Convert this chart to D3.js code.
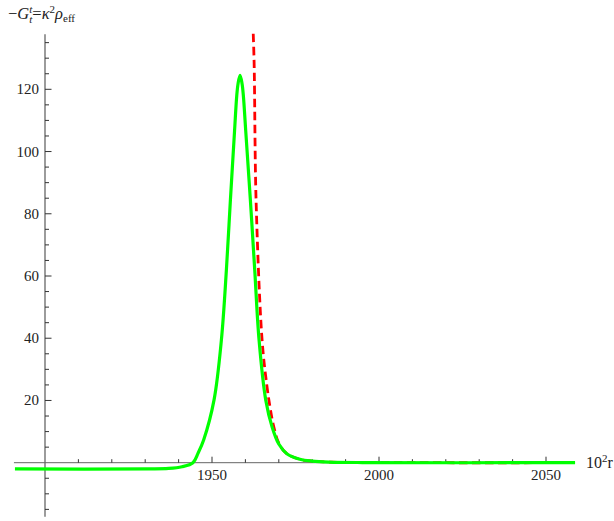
<!DOCTYPE html>
<html>
<head>
<meta charset="utf-8">
<script src="https://cdn.jsdelivr.net/npm/d3@7"></script>
<style>
  html, body { margin: 0; padding: 0; background: #fff; }
  svg text { font-family: "Liberation Serif", "Times New Roman", Times, "DejaVu Serif", serif; }
</style>
</head>
<body>
<div id="chart"></div>
<script>
// Data
const greenR = [1891, 1931, 1937, 1941, 1944.3, 1945.8, 1947.5, 1950.6, 1952.8, 1954.3, 1955.5, 1956.75, 1957.4, 1957.8,
                1958.4, 1959.0, 1959.4, 1960.1, 1961.5, 1962.8, 1964.1, 1966.1, 1968.0, 1970.0, 1972.4, 1976.3, 1980, 1985, 1995, 2058.7];
const greenV = [-2, -2, -1.85, -1.3, 0, 3, 7.3, 20.1, 39.3, 61.8, 84.2, 106.6, 117.8, 121.8,
                124.5, 121.8, 117.8, 106.6, 84.2, 61.8, 39.3, 20.1, 11.5, 6, 2.9, 1.1, 0.5, 0.2, 0.05, 0];

const redR = [1962.2, 1962.6, 1963.2, 1965.0, 1966.4, 1967.5, 1968.5, 1970.0, 1972.4, 1976.3, 1980, 1985, 1995, 2058.7];
const redV = [142, 129.1, 84.2, 39.3, 25, 17, 11.5, 6.3, 2.9, 1.1, 0.5, 0.2, 0.05, 0];

const xMajor = [1950, 2000, 2050];
const yMajor = [20, 40, 60, 80, 100, 120];

const width = 614, height = 521;

const svg = d3.select("#chart").append("svg")
    .attr("width", width)
    .attr("height", height);

// scales: y axis sits at r = 1900, x axis at value 0
const x = d3.scaleLinear().domain([1900, 2050]).range([45, 546]);
const y = d3.scaleLinear().domain([0, 120]).range([462.7, 89.3]);

const xMin = 1890.7, xMax = 2058.7;
const yMin = -17.4, yMax = 137.7;

// clip for the curves
svg.append("defs").append("clipPath")
    .attr("id", "plotclip")
    .append("rect")
    .attr("x", x(xMin) - 2)
    .attr("y", y(yMax) - 2)
    .attr("width", x(xMax) - x(xMin) + 4)
    .attr("height", y(yMin) - y(yMax) + 4);

const axisColor = "#666";

// x axis line
svg.append("line")
    .attr("x1", x(xMin)).attr("x2", x(xMax))
    .attr("y1", y(0)).attr("y2", y(0))
    .style("stroke", axisColor).style("stroke-width", 1);

// y axis line
svg.append("line")
    .attr("x1", x(1900)).attr("x2", x(1900))
    .attr("y1", y(yMax)).attr("y2", y(yMin))
    .style("stroke", axisColor).style("stroke-width", 1.3);

// x ticks (pointing up)
const xTicks = d3.range(1910, 2060, 10);
svg.append("g").selectAll("line")
    .data(xTicks)
    .enter().append("line")
    .attr("x1", d => x(d)).attr("x2", d => x(d))
    .attr("y1", y(0))
    .attr("y2", d => y(0) - (xMajor.includes(d) ? 6 : 3.5))
    .style("stroke", "#333").style("stroke-width", 1);

svg.append("g").selectAll("text")
    .data(xMajor)
    .enter().append("text")
    .attr("x", d => x(d))
    .attr("y", y(0) + 17)
    .attr("text-anchor", "middle")
    .style("font-size", "15px")
    .style("fill", "#222")
    .text(d => d);

// y ticks (pointing right)
const yTicks = d3.range(-15, 140, 5).filter(d => d !== 0);
svg.append("g").selectAll("line")
    .data(yTicks)
    .enter().append("line")
    .attr("x1", x(1900))
    .attr("x2", d => x(1900) + (yMajor.includes(d) ? 6.5 : 4))
    .attr("y1", d => y(d)).attr("y2", d => y(d))
    .style("stroke", "#333").style("stroke-width", 1);

svg.append("g").selectAll("text")
    .data(yMajor)
    .enter().append("text")
    .attr("x", x(1900) - 6)
    .attr("y", d => y(d) + 5)
    .attr("text-anchor", "end")
    .style("font-size", "15px")
    .style("fill", "#222")
    .text(d => d);

// curves
const line = d3.line()
    .x(d => x(d[0]))
    .y(d => y(d[1]))
    .curve(d3.curveCatmullRom.alpha(0.5));

const plot = svg.append("g").attr("clip-path", "url(#plotclip)");

plot.append("path")
    .datum(d3.zip(redR, redV))
    .attr("d", line)
    .style("fill", "none")
    .style("stroke", "#ff0000")
    .style("stroke-width", 2.8)
    .style("stroke-dasharray", "8.5,4.5");

plot.append("path")
    .datum(d3.zip(greenR, greenV))
    .attr("d", line)
    .style("fill", "none")
    .style("stroke", "#00ff00")
    .style("stroke-width", 3.2);

// axis labels
const xl = svg.append("text")
    .attr("x", 586)
    .attr("y", y(0) + 5)
    .style("font-size", "16px")
    .style("fill", "#222");
xl.append("tspan").text("10");
xl.append("tspan").attr("dy", -6).style("font-size", "11px").text("2");
xl.append("tspan").attr("dy", 6).text("r");

const yl = svg.append("text")
    .attr("x", 8)
    .attr("y", 19)
    .style("font-size", "16.5px")
    .style("fill", "#222");
yl.append("tspan").text("\u2212");
yl.append("tspan").style("font-style", "italic").text("G");
yl.append("tspan").attr("dy", -6).style("font-size", "11px").style("font-style", "italic").text("t");
yl.append("tspan").attr("dy", 10).attr("dx", -3).style("font-size", "11px").style("font-style", "italic").text("t");
yl.append("tspan").attr("dy", -4).text("=");
yl.append("tspan").style("font-style", "italic").text("\u03ba");
yl.append("tspan").attr("dy", -6).style("font-size", "11px").text("2");
yl.append("tspan").attr("dy", 6).style("font-style", "italic").text("\u03c1");
yl.append("tspan").attr("dy", 3).style("font-size", "11px").text("eff");
</script>
</body>
</html>
